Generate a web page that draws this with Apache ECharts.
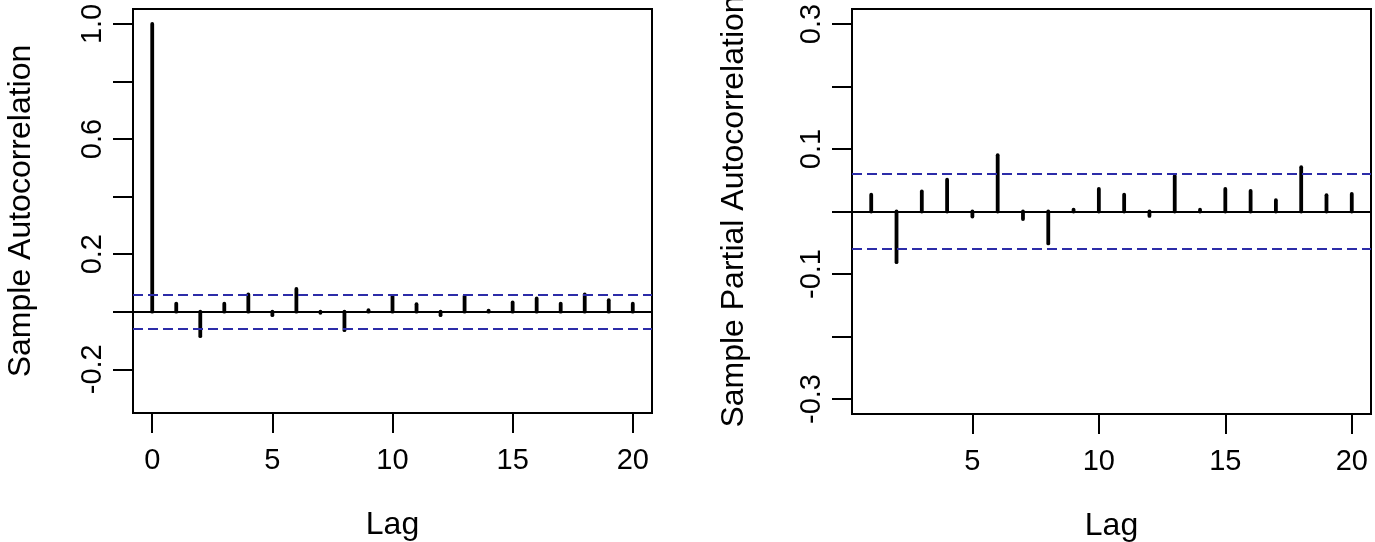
<!DOCTYPE html>
<html>
<head>
<meta charset="utf-8">
<script src="https://cdn.jsdelivr.net/npm/echarts@6/dist/echarts.min.js"></script>
<style>
  html, body { margin: 0; padding: 0; background: #fff; }
  #main { width: 1375px; height: 542px; }
</style>
</head>
<body>
<div id="main"></div>
<script>
// sample ACF, lags 0..20
var acfLags = [0, 1, 2, 3, 4, 5, 6, 7, 8, 9, 10, 11, 12, 13, 14, 15, 16, 17, 18, 19, 20];
var acfValues = [1.0, 0.028, -0.085, 0.028, 0.060, -0.012, 0.079, -0.004, -0.064, 0.005, 0.055, 0.026,
                 -0.012, 0.055, 0.004, 0.032, 0.046, 0.028, 0.060, 0.040, 0.028];
// sample PACF, lags 1..20
var pacfLags = [1, 2, 3, 4, 5, 6, 7, 8, 9, 10, 11, 12, 13, 14, 15, 16, 17, 18, 19, 20];
var pacfValues = [0.027, -0.081, 0.032, 0.051, -0.008, 0.090, -0.012, -0.051, 0.003, 0.036, 0.027,
                  -0.007, 0.057, 0.003, 0.036, 0.033, 0.018, 0.071, 0.026, 0.028];
// 95% bound
var clim = 0.06;

var acfYTicks = [-0.2, 0, 0.2, 0.4, 0.6, 0.8, 1.0];
var acfYLabels = [-0.2, 0.2, 0.6, 1.0];
var acfXTicks = [0, 5, 10, 15, 20];
var pacfYTicks = [-0.3, -0.2, -0.1, 0, 0.1, 0.2, 0.3];
var pacfYLabels = [-0.3, -0.1, 0.1, 0.3];
var pacfXTicks = [5, 10, 15, 20];

var FONT = 'Liberation Sans';

function stick(params, api) {
    var p0 = api.coord([api.value(0), 0]);
    var p1 = api.coord([api.value(0), api.value(1)]);
    return {
        type: 'line',
        shape: { x1: p0[0], y1: p0[1], x2: p1[0], y2: p1[1] },
        style: { stroke: '#000', lineWidth: 3.8, lineCap: 'round' }
    };
}

function pairs(xs, ys) {
    return xs.map(function (x, i) { return [x, ys[i]]; });
}

function refLines() {
    var dash = { color: '#2c2ca8', width: 2, type: [10, 5] };
    return {
        silent: true,
        symbol: 'none',
        label: { show: false },
        animation: false,
        data: [
            { yAxis: 0, lineStyle: { color: '#000', width: 2, type: 'solid' } },
            { yAxis: clim, lineStyle: dash },
            { yAxis: -clim, lineStyle: dash }
        ]
    };
}

function xAxisOpt(idx, min, max, ticks) {
    return {
        type: 'value', gridIndex: idx, min: min, max: max,
        name: 'Lag', nameLocation: 'middle', nameGap: 96,
        nameTextStyle: { fontFamily: FONT, fontSize: 32, color: '#000' },
        axisLine: { show: false, onZero: false },
        splitLine: { show: false },
        axisTick: { show: true, length: 20, customValues: ticks, lineStyle: { color: '#000', width: 2 } },
        axisLabel: { customValues: ticks, margin: 33, fontFamily: FONT, fontSize: 29, color: '#000' }
    };
}

function yAxisOpt(idx, min, max, ticks, labels, name, gap) {
    return {
        type: 'value', gridIndex: idx, min: min, max: max,
        name: name, nameLocation: 'middle', nameGap: gap,
        nameTextStyle: { fontFamily: FONT, fontSize: 32, color: '#000' },
        axisLine: { show: false, onZero: false },
        splitLine: { show: false },
        axisTick: { show: true, length: 20, customValues: ticks, lineStyle: { color: '#000', width: 2 } },
        axisLabel: {
            customValues: labels, rotate: 90, margin: 26,
            fontFamily: FONT, fontSize: 29, color: '#000',
            formatter: function (v) { return v.toFixed(1); }
        }
    };
}

var myChart = echarts.init(document.getElementById('main'));
var option = {
    animation: false,
    backgroundColor: '#fff',
    grid: [
        { left: 133, top: 9, width: 519, height: 404, show: true, borderColor: '#000', borderWidth: 2,
          outerBoundsMode: 'none', containLabel: false },
        { left: 852, top: 9, width: 519, height: 405, show: true, borderColor: '#000', borderWidth: 2,
          outerBoundsMode: 'none', containLabel: false }
    ],
    xAxis: [
        xAxisOpt(0, -0.8, 20.8, acfXTicks),
        xAxisOpt(1, 0.24, 20.76, pacfXTicks)
    ],
    yAxis: [
        yAxisOpt(0, -0.352, 1.052, acfYTicks, acfYLabels, 'Sample Autocorrelation', 96),
        yAxisOpt(1, -0.324, 0.324, pacfYTicks, pacfYLabels, 'Sample Partial Autocorrelation', 102)
    ],
    series: [
        {
            type: 'custom', xAxisIndex: 0, yAxisIndex: 0,
            renderItem: stick, data: pairs(acfLags, acfValues),
            markLine: refLines(), z: 3
        },
        {
            type: 'custom', xAxisIndex: 1, yAxisIndex: 1,
            renderItem: stick, data: pairs(pacfLags, pacfValues),
            markLine: refLines(), z: 3
        }
    ]
};
myChart.setOption(option);
</script>
</body>
</html>
